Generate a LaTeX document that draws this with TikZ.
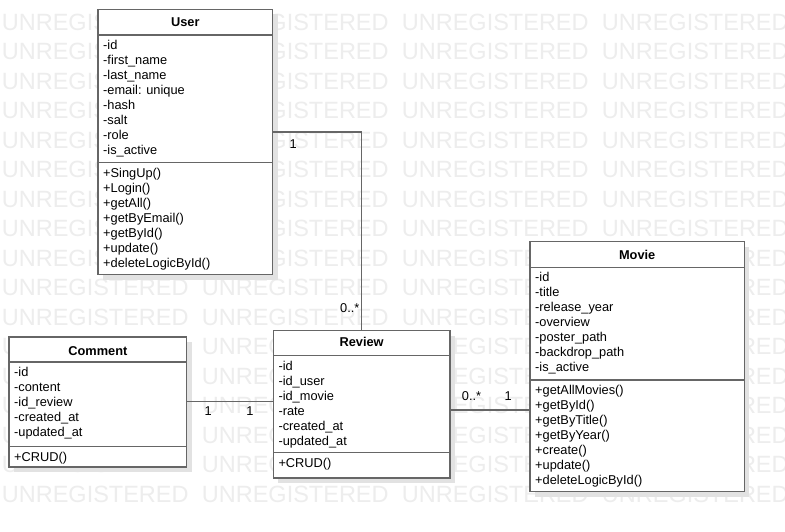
\documentclass[tikz,border=0pt]{standalone}
\usepackage{fontspec}
\setmainfont{Liberation Sans}
\usetikzlibrary{shadows}
\definecolor{wm}{RGB}{237,237,237}
\definecolor{bord}{RGB}{102,102,102}
\definecolor{shd}{RGB}{226,226,226}
\begin{document}
\begin{tikzpicture}[x=1pt,y=-1pt,
  cls/.style={draw=bord, line width=1.3pt, fill=white, anchor=north west, inner sep=0pt, outer sep=0pt,
    general shadow={fill=shd, shadow xshift=5pt, shadow yshift=-5pt}},
  sepline/.style={draw=bord, line width=1.3pt},
  ttl/.style={font=\fontsize{12.8}{15}\selectfont\bfseries, anchor=base, inner sep=0pt},
  itm/.style={font=\fontsize{12.8}{15}\selectfont, anchor=base west, inner sep=0pt},
  lbl/.style={font=\fontsize{12.8}{15}\selectfont, anchor=base, inner sep=0pt},
  lblw/.style={font=\fontsize{12.8}{15}\selectfont, anchor=base west, inner sep=0pt},
  conn/.style={draw=bord, line width=1.3pt},
  wmk/.style={font=\fontsize{23.5}{28}\selectfont, text=wm, anchor=base west, inner sep=0pt}]
\useasboundingbox (0,0) rectangle (785,532);
\fill[white] (0,0) rectangle (785,532);
% watermark
\begin{scope}
\clip (0,0) rectangle (785,532);
\foreach \j in {0,...,16} {
  \foreach \i in {0,...,3} {
    \node[wmk] (wm-\i-\j) at ({1.7+200*\i},{30.1+29.5*\j}) {UNREGISTERED};
  }
}
\end{scope}

% ---------- User ----------
\node[cls, minimum width=174.7pt, minimum height=265pt] (user) at (98,9.5) {};
\node[ttl] (user-t) at (185.35,26.5) {User};
\draw[sepline] (user.west |- 0,35) -- (user.east |- 0,35);
\draw[sepline] (user.west |- 0,162.5) -- (user.east |- 0,162.5);
\foreach \t [count=\k from 0] in {-id,-first\_name,-last\_name,-email: unique,-hash,-salt,-role,-is\_active}
  \node[itm] (user-a\k) at (103,49.5+15*\k) {\t};
\foreach \t [count=\k from 0] in {+SingUp(),+Login(),+getAll(),+getByEmail(),+getById(),+update(),+deleteLogicById()}
  \node[itm] (user-m\k) at (103,177.5+15*\k) {\t};

% ---------- Comment ----------
\node[cls, minimum width=177.7pt, minimum height=130pt] (comment) at (9,337) {};
\node[ttl] (comment-t) at (97.85,355) {Comment};
\draw[sepline] (comment.west |- 0,362) -- (comment.east |- 0,362);
\draw[sepline] (comment.west |- 0,446.7) -- (comment.east |- 0,446.7);
\foreach \t [count=\k from 0] in {-id,-content,-id\_review,-created\_at,-updated\_at}
  \node[itm] (comment-a\k) at (14,376.5+15*\k) {\t};
\node[itm] (comment-m0) at (14,461.5) {+CRUD()};

% ---------- Review ----------
\node[cls, minimum width=176.7pt, minimum height=147.3pt] (review) at (273.3,330.7) {};
\node[ttl] (review-t) at (361.65,346) {Review};
\draw[sepline] (review.west |- 0,355.7) -- (review.east |- 0,355.7);
\draw[sepline] (review.west |- 0,452.3) -- (review.east |- 0,452.3);
\foreach \t [count=\k from 0] in {-id,-id\_user,-id\_movie,-rate,-created\_at,-updated\_at}
  \node[itm] (review-a\k) at (278.3,370.2+15*\k) {\t};
\node[itm] (review-m0) at (278.3,467.3) {+CRUD()};

% ---------- Movie ----------
\node[cls, minimum width=214.3pt, minimum height=250pt] (movie) at (530,241.7) {};
\node[ttl] (movie-t) at (637.15,259.5) {Movie};
\draw[sepline] (movie.west |- 0,267.3) -- (movie.east |- 0,267.3);
\draw[sepline] (movie.west |- 0,380) -- (movie.east |- 0,380);
\foreach \t [count=\k from 0] in {-id,-title,-release\_year,-overview,-poster\_path,-backdrop\_path,-is\_active}
  \node[itm] (movie-a\k) at (535,281.8+15*\k) {\t};
\foreach \t [count=\k from 0] in {+getAllMovies(),+getById(),+getByTitle(),+getByYear(),+create(),+update(),+deleteLogicById()}
  \node[itm] (movie-m\k) at (535,394.8+15*\k) {\t};

% ---------- connectors ----------
\coordinate (bend1) at (361.7,132);
\draw[conn] (user.east |- bend1) -- (bend1) -- (review.north -| bend1);
\node[lbl] (l-user) at (293.3,148.5) {1};
\node[lblw] (l-rev1) at (340,312.5) {0..*};

\draw[conn] (comment.east |- 0,401.5) -- (review.west |- 0,401.5);
\node[lbl] (l-com) at (208.3,415.3) {1};
\node[lbl] (l-rev2) at (250,415.3) {1};

\coordinate (lk3) at (490,410);
\draw[conn] (review.east |- lk3) -- (movie.west |- lk3);
\node[lblw] (l-rev3) at (461.7,400.7) {0..*};
\node[lbl] (l-mov) at (508.3,400.7) {1};
\end{tikzpicture}
\end{document}
